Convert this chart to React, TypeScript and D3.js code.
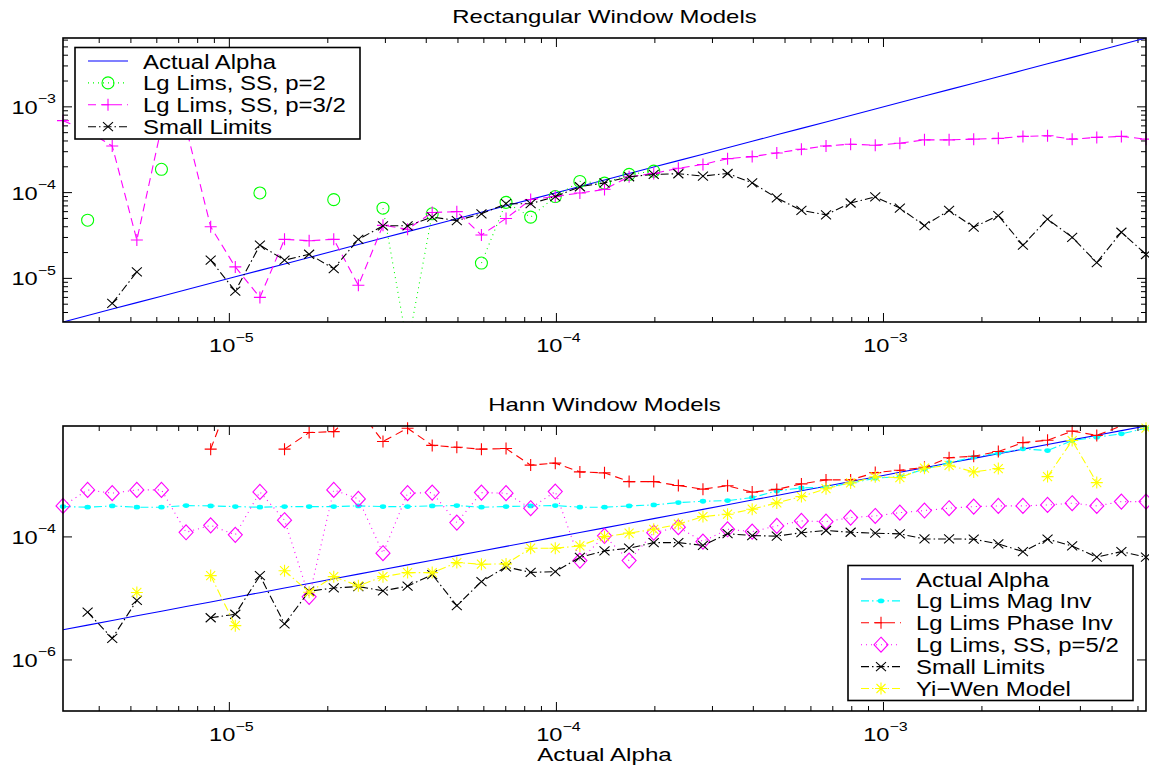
import React, { useEffect, useRef } from "react";
import * as d3 from "d3";

// alpha values (x positions, also the "Actual Alpha" reference line)
const alpha = [
  3.1e-6, 3.687e-6, 4.384e-6, 5.214e-6, 6.2e-6, 7.373e-6, 8.768e-6, 1.0427e-5, 1.24e-5,
  1.4746e-5, 1.7536e-5, 2.0854e-5, 2.48e-5, 2.9493e-5, 3.5072e-5, 4.1708e-5, 4.96e-5,
  5.8985e-5, 7.0144e-5, 8.3417e-5, 9.92e-5, 1.1797e-4, 1.4029e-4, 1.6683e-4, 1.984e-4,
  2.3594e-4, 2.8058e-4, 3.3367e-4, 3.968e-4, 4.7188e-4, 5.6115e-4, 6.6733e-4, 7.936e-4,
  9.4376e-4, 1.1223e-3, 1.3347e-3, 1.5872e-3, 1.8875e-3, 2.2446e-3, 2.6693e-3, 3.1744e-3,
  3.775e-3, 4.4892e-3, 5.3387e-3, 6.3488e-3,
];

// Rectangular window models
const rectP2 = [
  null, 4.77e-5, null, null, 1.87e-4, null, null, null, 9.9e-5, null, null, 8.28e-5, null,
  6.58e-5, 1.6e-6, 5.66e-5, null, 1.51e-5, 7.7e-5, 5.18e-5, 9.0e-5, 1.35e-4, 1.29e-4,
  1.63e-4, 1.78e-4, null, null, null, null, null, null, null, null, null, null, null, null,
  null, null, null, null, null, null, null, null,
];
const rectP32 = [
  6.9e-4, 5.2e-4, 3.5e-4, 2.8e-5, 5.8e-4, 5.7e-4, 4.0e-5, 1.36e-5, 6.0e-6, 2.85e-5, 2.75e-5,
  2.85e-5, 8.3e-6, 4.15e-5, 3.74e-5, 5.86e-5, 6.0e-5, 3.2e-5, 5.0e-5, 8.3e-5, 9.0e-5, 9.9e-5,
  1.09e-4, 1.53e-4, 1.67e-4, 1.92e-4, 2.13e-4, 2.49e-4, 2.63e-4, 2.9e-4, 3.2e-4, 3.5e-4,
  3.67e-4, 3.57e-4, 3.77e-4, 4.12e-4, 4.12e-4, 4.2e-4, 4.29e-4, 4.52e-4, 4.6e-4, 4.2e-4,
  4.4e-4, 4.52e-4, 4.2e-4,
];
const rectSmall = [
  null, null, 5.1e-6, 1.19e-5, null, null, 1.63e-5, 7.1e-6, 2.44e-5, 1.63e-5, 1.91e-5, 1.3e-5,
  2.85e-5, 4.1e-5, 4.1e-5, 5.18e-5, 4.72e-5, 5.66e-5, 7.43e-5, 7.43e-5, 9.0e-5, 1.17e-4,
  1.3e-4, 1.53e-4, 1.63e-4, 1.66e-4, 1.56e-4, 1.67e-4, 1.3e-4, 8.67e-5, 6.2e-5, 5.51e-5,
  7.57e-5, 8.9e-5, 6.6e-5, 4.12e-5, 6.2e-5, 3.95e-5, 5.4e-5, 2.44e-5, 4.91e-5, 3.01e-5,
  1.53e-5, 3.45e-5, 1.9e-5,
];

// Hann window models
const hannMagInv = [
  3.11e-4, 3.04e-4, 3.19e-4, 3.04e-4, 3.04e-4, 3.23e-4, 3.19e-4, 3.11e-4, 3.04e-4, 3.11e-4,
  3.11e-4, 3.11e-4, 3.19e-4, 3.11e-4, 3.11e-4, 3.19e-4, 3.23e-4, 3.04e-4, 3.11e-4, 3.19e-4,
  3.23e-4, 3.04e-4, 3.04e-4, 3.19e-4, 3.31e-4, 3.61e-4, 3.8e-4, 3.89e-4, 4.35e-4, 5.6e-4,
  6.26e-4, 6.4e-4, 7.47e-4, 9.0e-4, 9.56e-4, 1.26e-3, 1.61e-3, 1.98e-3, 2.3e-3, 2.7e-3,
  2.53e-3, 3.68e-3, 4.18e-3, 4.73e-3, 5.85e-3,
];
const hannPhaseInv = [
  null, null, null, null, null, null, 2.67e-3, 3e-2, null, 2.67e-3, 4.97e-3, 5.15e-3, 1.2e-2,
  3.55e-3, 5.85e-3, 3.07e-3, 2.87e-3, 2.67e-3, 2.73e-3, 1.47e-3, 1.58e-3, 1.14e-3, 1.1e-3,
  7.93e-4, 7.93e-4, 6.83e-4, 5.97e-4, 6.8e-4, 5.35e-4, 5.92e-4, 7.27e-4, 8.45e-4, 8.45e-4,
  1.11e-3, 1.21e-3, 1.35e-3, 1.94e-3, 2.05e-3, 2.44e-3, 3.41e-3, 3.73e-3, 5.25e-3, 4.47e-3,
  6.38e-3, 7.5e-3,
];
const hannP52 = [
  3.19e-4, 5.81e-4, 5.14e-4, 5.81e-4, 5.81e-4, 1.19e-4, 1.54e-4, 1.08e-4, 5.39e-4, 1.87e-4,
  1.06e-5, 5.81e-4, 4.15e-4, 5.43e-5, 5.14e-4, 5.25e-4, 1.71e-4, 5.25e-4, 5.14e-4, 2.93e-4,
  5.46e-4, 4.12e-5, 1.04e-4, 4.12e-5, 1.17e-4, 1.44e-4, 8.39e-5, 1.33e-4, 1.22e-4, 1.51e-4,
  1.82e-4, 1.77e-4, 2.06e-4, 2.19e-4, 2.48e-4, 2.68e-4, 2.93e-4, 3.11e-4, 3.19e-4, 3.19e-4,
  3.31e-4, 3.53e-4, 3.19e-4, 3.75e-4, 3.75e-4,
];
const hannSmall = [
  null, 5.97e-6, 2.25e-6, 9.27e-6, null, null, 4.85e-6, 5.53e-6, 2.34e-5, 3.85e-6, 1.31e-5,
  1.48e-5, 1.56e-5, 1.33e-5, 1.58e-5, 2.44e-5, 7.64e-6, 1.88e-5, 3.25e-5, 2.65e-5, 2.73e-5,
  4.65e-5, 5.92e-5, 6.55e-5, 8.08e-5, 8.08e-5, 7.27e-5, 1.13e-4, 1.05e-4, 1.03e-4, 1.17e-4,
  1.27e-4, 1.19e-4, 1.15e-4, 1.12e-4, 9.27e-5, 9.27e-5, 9.18e-5, 7.7e-5, 5.77e-5, 9.18e-5,
  7.14e-5, 4.68e-5, 5.77e-5, 4.68e-5,
];
const hannYiWen = [
  null, null, null, 1.25e-5, null, null, 2.35e-5, 3.61e-6, null, 2.82e-5, 1.26e-5, 2.26e-5,
  1.6e-5, 2.26e-5, 2.63e-5, 2.63e-5, 3.82e-5, 3.6e-5, 3.64e-5, 6.55e-5, 6.55e-5, 7.14e-5,
  1.01e-4, 1.15e-4, 1.33e-4, 1.61e-4, 2.14e-4, 2.34e-4, 2.82e-4, 3.57e-4, 4.52e-4, 6.08e-4,
  7.55e-4, 9.46e-4, 9.18e-4, 1.31e-3, 1.46e-3, 1.14e-3, 1.29e-3, null, 9.56e-4, 3.68e-3,
  7.64e-4, null, 5.85e-3,
];

// axis tick exponents
const xTickExps = [-5, -4, -3];
const rectYTickExps = [-5, -4, -3];
const hannYTickExps = [-6, -4];
const hannYMin = 1.48e-7;

const FONT = "'Liberation Sans', Arial, Helvetica, sans-serif";
const DASHED = "8,5";
const DOTTED = "1,4";
const DASHDOT = "8,3,1.5,3";

type Series = {
  label: string;
  values: (number | null)[];
  color: string;
  dash: string | null;
  marker: string;
};

const rectSeries: Series[] = [
  { label: "Actual Alpha", values: alpha, color: "#0000ff", dash: null, marker: "none" },
  { label: "Lg Lims, SS, p=2", values: rectP2, color: "#00ff00", dash: DOTTED, marker: "circle" },
  { label: "Lg Lims, SS, p=3/2", values: rectP32, color: "#ff00ff", dash: DASHED, marker: "plus" },
  { label: "Small Limits", values: rectSmall, color: "#000000", dash: DASHDOT, marker: "x" },
];

const hannSeries: Series[] = [
  { label: "Actual Alpha", values: alpha, color: "#0000ff", dash: null, marker: "none" },
  { label: "Lg Lims Mag Inv", values: hannMagInv, color: "#00ffff", dash: DASHDOT, marker: "dot" },
  { label: "Lg Lims Phase Inv", values: hannPhaseInv, color: "#ff0000", dash: DASHED, marker: "plus" },
  { label: "Lg Lims, SS, p=5/2", values: hannP52, color: "#ff00ff", dash: DOTTED, marker: "diamond" },
  { label: "Small Limits", values: hannSmall, color: "#000000", dash: DASHDOT, marker: "x" },
  { label: "Yi\u2212Wen Model", values: hannYiWen, color: "#ffff00", dash: DASHDOT, marker: "star" },
];

function drawMarker(g: any, type: string, x: number, y: number, color: string) {
  const s = 6;
  if (type === "none") return;
  if (type === "circle") {
    g.append("circle").attr("cx", x).attr("cy", y).attr("r", s)
      .attr("fill", "none").attr("stroke", color).attr("stroke-width", 1.1);
    return;
  }
  if (type === "dot") {
    g.append("ellipse").attr("cx", x).attr("cy", y).attr("rx", 3.2).attr("ry", 2.4)
      .attr("fill", color);
    return;
  }
  let d = "";
  if (type === "plus") d = `M${-s},0H${s}M0,${-s}V${s}`;
  if (type === "x") d = `M-5,-4.5L5,4.5M-5,4.5L5,-4.5`;
  if (type === "diamond") d = `M0,-7.5L7,0L0,7.5L-7,0Z`;
  if (type === "star") d = `M${-s},0H${s}M0,${-s}V${s}M-4.5,-4.5L4.5,4.5M-4.5,4.5L4.5,-4.5`;
  g.append("path").attr("d", d).attr("transform", `translate(${x},${y})`)
    .attr("fill", "none").attr("stroke", color).attr("stroke-width", 1.1);
}

function stretchedText(g: any, x: number, y: number, text: string, size: number, sx: number, anchor: string) {
  g.append("text")
    .attr("transform", `translate(${x},${y}) scale(${sx},1)`)
    .attr("text-anchor", anchor)
    .attr("font-family", FONT)
    .attr("font-size", size)
    .attr("fill", "#000")
    .text(text);
}

function powLabel(g: any, x: number, y: number, exp: number, anchor: string) {
  const t = g.append("text")
    .attr("transform", `translate(${x},${y}) scale(1.28,1)`)
    .attr("text-anchor", anchor)
    .attr("font-family", FONT)
    .attr("fill", "#000");
  t.append("tspan").attr("font-size", 18.5).text("10");
  t.append("tspan").attr("font-size", 12.5).attr("dy", -10.5).text(`\u2212${Math.abs(exp)}`);
}

function drawPanel(svg: any, opts: {
  id: string; top: number; bottom: number; left: number; right: number;
  yDomain: [number, number]; yTicks: number[]; yMinor: boolean; title: string;
  series: Series[];
}) {
  const { top, bottom, left, right } = opts;
  const x = d3.scaleLog().domain([alpha[0], alpha[alpha.length - 1]]).range([left, right]);
  const y = d3.scaleLog().domain(opts.yDomain).range([bottom, top]);

  svg.append("defs").append("clipPath").attr("id", opts.id)
    .append("rect").attr("x", left).attr("y", top).attr("width", right - left).attr("height", bottom - top);

  svg.append("rect").attr("x", left).attr("y", top).attr("width", right - left)
    .attr("height", bottom - top).attr("fill", "#fff");

  // ticks, inward on all four sides
  const axes = svg.append("g").attr("stroke", "#000").attr("stroke-width", 1);
  const majorLen = 9, minorLen = 5;
  const [xd0, xd1] = x.domain();
  for (let e = -7; e <= -2; e++) {
    for (let m = 1; m <= 9; m++) {
      const v = m * Math.pow(10, e);
      if (v < xd0 || v > xd1) continue;
      const len = m === 1 ? majorLen : minorLen;
      const px = x(v);
      axes.append("line").attr("x1", px).attr("x2", px).attr("y1", bottom).attr("y2", bottom - len);
      axes.append("line").attr("x1", px).attr("x2", px).attr("y1", top).attr("y2", top + len);
    }
  }
  const [yd0, yd1] = y.domain();
  for (let e = -8; e <= -2; e++) {
    for (let m = 1; m <= 9; m++) {
      if (m > 1 && !opts.yMinor) continue;
      if (m === 1 && !opts.yMinor && !opts.yTicks.includes(e)) continue;
      const v = m * Math.pow(10, e);
      if (v < yd0 || v > yd1) continue;
      const len = m === 1 ? majorLen : minorLen;
      const py = y(v);
      axes.append("line").attr("y1", py).attr("y2", py).attr("x1", left).attr("x2", left + len);
      axes.append("line").attr("y1", py).attr("y2", py).attr("x1", right).attr("x2", right - len);
    }
  }

  xTickExps.forEach((e) => powLabel(svg, x(Math.pow(10, e)) + 2, bottom + 30, e, "middle"));
  opts.yTicks.forEach((e) => powLabel(svg, left - 7, y(Math.pow(10, e)) + 7, e, "end"));

  // data lines (clipped to the axes) and markers
  const plot = svg.append("g");
  opts.series.forEach((s) => {
    const pts = alpha.map((a, i) => ({ a, v: s.values[i] }));
    const line = d3.line<any>()
      .defined((d) => d.v != null && d.v > 0)
      .x((d) => x(d.a))
      .y((d) => y(d.v));
    plot.append("path")
      .attr("d", line(pts))
      .attr("clip-path", `url(#${opts.id})`)
      .attr("fill", "none")
      .attr("stroke", s.color)
      .attr("stroke-width", 1.1)
      .attr("stroke-dasharray", s.dash);
    pts.forEach((d) => {
      if (d.v == null || d.v < yd0 || d.v > yd1) return;
      drawMarker(plot, s.marker, x(d.a), y(d.v), s.color);
    });
  });

  svg.append("rect").attr("x", left).attr("y", top).attr("width", right - left)
    .attr("height", bottom - top).attr("fill", "none").attr("stroke", "#000").attr("stroke-width", 1.6);

  stretchedText(svg, (left + right) / 2, top - 15, opts.title, 18, 1.33, "middle");
}

function drawLegend(svg: any, series: Series[], bx: number, by: number, bw: number, bh: number,
  firstRow: number, rowGap: number) {
  const g = svg.append("g");
  g.append("rect").attr("x", bx).attr("y", by).attr("width", bw).attr("height", bh)
    .attr("fill", "#fff").attr("stroke", "#000").attr("stroke-width", 1.6);
  series.forEach((s, i) => {
    const cy = firstRow + i * rowGap;
    const lx = bx + 13;
    g.append("line").attr("x1", lx).attr("x2", lx + 40).attr("y1", cy).attr("y2", cy)
      .attr("stroke", s.color).attr("stroke-width", 1.1).attr("stroke-dasharray", s.dash);
    drawMarker(g, s.marker, lx + 20, cy, s.color);
    stretchedText(g, lx + 55, cy + 7.5, s.label, 21, 1.14, "start");
  });
}

export default function App() {
  const ref = useRef<SVGSVGElement>(null);

  useEffect(() => {
    const svg = d3.select(ref.current);
    svg.selectAll("*").remove();
    svg.append("rect").attr("width", 1149).attr("height", 770).attr("fill", "#fff");

    drawPanel(svg, {
      id: "clipRect", top: 38, bottom: 322, left: 63, right: 1146,
      yDomain: [alpha[0], alpha[alpha.length - 1]], yTicks: rectYTickExps, yMinor: true,
      title: "Rectangular Window Models", series: rectSeries,
    });
    drawPanel(svg, {
      id: "clipHann", top: 426, bottom: 711, left: 63, right: 1146,
      yDomain: [hannYMin, alpha[alpha.length - 1]], yTicks: hannYTickExps, yMinor: false,
      title: "Hann Window Models", series: hannSeries,
    });

    drawLegend(svg, rectSeries, 75, 47.5, 285, 91.5, 61, 21.9);
    drawLegend(svg, hannSeries, 848, 565.5, 285, 135, 579, 21.9);

    stretchedText(svg, 604.5, 761, "Actual Alpha", 18.5, 1.31, "middle");
  }, []);

  return (
    <svg ref={ref} width={1149} height={770}
      style={{ position: "absolute", left: 0, top: 0, display: "block" }} />
  );
}
